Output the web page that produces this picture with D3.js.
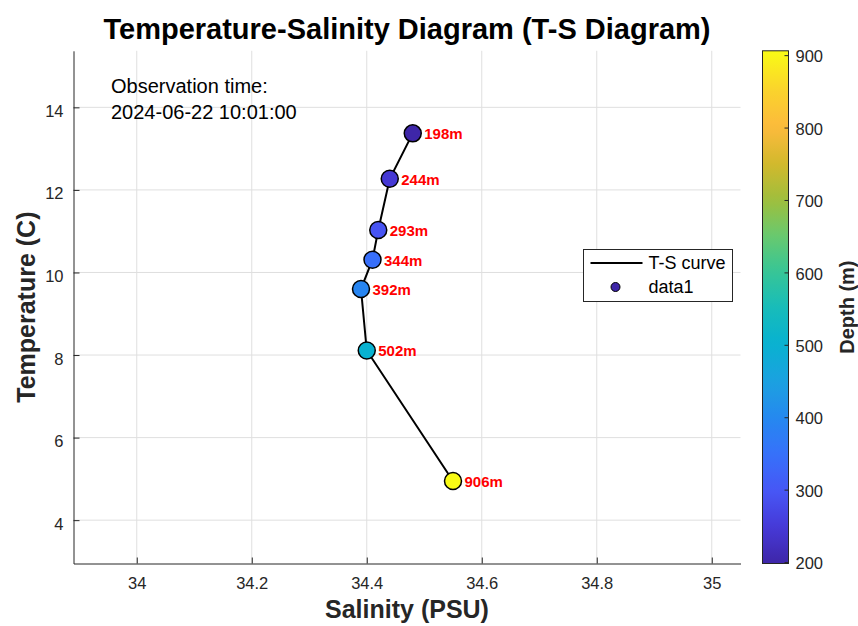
<!DOCTYPE html>
<html>
<head>
<meta charset="utf-8">
<script src="https://cdn.jsdelivr.net/npm/d3@7"></script>
<style>
  body { margin: 0; background: #fff; }
  svg { font-family: "Liberation Sans", Arial, sans-serif; }
</style>
</head>
<body>
<div id="chart"></div>
<script>
// T-S profile
var salinity = [34.48, 34.44, 34.42, 34.41, 34.39, 34.40, 34.55];
var temperature = [13.37, 12.27, 11.03, 10.31, 9.60, 8.11, 4.95];
var depth = [198, 244, 293, 344, 392, 502, 906];

var xTicks = [34, 34.2, 34.4, 34.6, 34.8, 35];
var yTicks = [4, 6, 8, 10, 12, 14];
var depthTicks = [200, 300, 400, 500, 600, 700, 800, 900];

var obsLines = ["Observation time:", "2024-06-22 10:01:00"];

// approx parula stops
var parulaStops = [
    [0.00, [62, 38, 168]],
    [0.07, [70, 57, 215]],
    [0.14, [71, 86, 245]],
    [0.21, [55, 112, 250]],
    [0.28, [38, 135, 240]],
    [0.35, [29, 160, 225]],
    [0.43, [8, 178, 208]],
    [0.50, [24, 188, 185]],
    [0.57, [55, 197, 150]],
    [0.64, [105, 201, 110]],
    [0.71, [160, 190, 60]],
    [0.78, [210, 185, 45]],
    [0.85, [252, 186, 60]],
    [0.92, [250, 210, 45]],
    [1.00, [249, 251, 21]]
];

(function () {
    function parula(t) {
        t = Math.max(0, Math.min(1, t));
        for (var i = 1; i < parulaStops.length; i++) {
            if (t <= parulaStops[i][0]) {
                var a = parulaStops[i - 1], b = parulaStops[i];
                var f = (t - a[0]) / (b[0] - a[0]);
                var c = a[1].map(function (v, k) { return Math.round(v + f * (b[1][k] - v)); });
                return "rgb(" + c.join(",") + ")";
            }
        }
        return "rgb(249,251,21)";
    }

    var W = 858, H = 626;
    var pLeft = 73.5, pRight = 740.5, pTop = 50.8, pBottom = 563.5;
    var ink = "#262626";
    var tickFont = "16.5px";

    var svg = d3.select("#chart").append("svg")
        .attr("width", W).attr("height", H);

    var data = salinity.map(function (s, i) {
        return { s: s, t: temperature[i], d: depth[i] };
    });

    var sExt = d3.extent(salinity), tExt = d3.extent(temperature), dExt = d3.extent(depth);

    var x = d3.scaleLinear().domain([sExt[0] - 0.5, sExt[1] + 0.5]).range([pLeft, pRight]);
    var y = d3.scaleLinear().domain([tExt[0] - 2, tExt[1] + 2]).range([pBottom, pTop]);
    var colorT = d3.scaleLinear().domain(dExt).range([0, 1]);
    function colour(d) { return parula(colorT(d)); }

    // grid
    var grid = svg.append("g");
    grid.selectAll(".gx").data(xTicks).enter().append("line")
        .attr("x1", function (d) { return x(d); }).attr("x2", function (d) { return x(d); })
        .attr("y1", pTop).attr("y2", pBottom)
        .attr("stroke", "#dfdfdf").attr("stroke-width", 1);
    grid.selectAll(".gy").data(yTicks).enter().append("line")
        .attr("y1", function (d) { return y(d); }).attr("y2", function (d) { return y(d); })
        .attr("x1", pLeft).attr("x2", pRight)
        .attr("stroke", "#dfdfdf").attr("stroke-width", 1);

    // axes (ticks inside)
    var xAxis = svg.append("g")
        .attr("transform", "translate(0," + pBottom + ")")
        .call(d3.axisBottom(x).tickValues(xTicks).tickSizeInner(-6).tickSizeOuter(0).tickPadding(10)
            .tickFormat(d3.format("~g")));
    var yAxis = svg.append("g")
        .attr("transform", "translate(" + pLeft + ",0)")
        .call(d3.axisLeft(y).tickValues(yTicks).tickSizeInner(-6).tickSizeOuter(0).tickPadding(10));

    [xAxis, yAxis].forEach(function (g) {
        g.select(".domain").attr("stroke", ink);
        g.selectAll(".tick line").attr("stroke", ink);
        g.selectAll(".tick text").attr("fill", ink)
            .style("font-size", tickFont).style("font-family", "Liberation Sans, Arial, sans-serif");
    });
    xAxis.selectAll(".tick text").attr("dy", "0.95em");
    yAxis.selectAll(".tick text").attr("dy", "0.55em");

    // T-S curve
    var line = d3.line()
        .x(function (d) { return x(d.s); })
        .y(function (d) { return y(d.t); });

    svg.append("path")
        .datum(data)
        .attr("d", line)
        .attr("fill", "none")
        .attr("stroke", "#000")
        .attr("stroke-width", 2);

    svg.selectAll(".pt").data(data).enter().append("circle")
        .attr("cx", function (d) { return x(d.s); })
        .attr("cy", function (d) { return y(d.t); })
        .attr("r", 8.5)
        .attr("fill", function (d) { return colour(d.d); })
        .attr("stroke", "#000")
        .attr("stroke-width", 1.5);

    svg.selectAll(".lbl").data(data).enter().append("text")
        .attr("x", function (d) { return x(d.s + 0.02); })
        .attr("y", function (d) { return y(d.t); })
        .attr("dy", "0.4em")
        .attr("fill", "#ff0000")
        .style("font-size", "15px").style("font-weight", "bold")
        .text(function (d) { return d.d + "m"; });

    // observation time
    svg.append("g").selectAll("text").data(obsLines).enter().append("text")
        .attr("x", 111)
        .attr("y", function (d, i) { return 93 + i * 26; })
        .attr("fill", "#000")
        .style("font-size", "20px")
        .text(function (d) { return d; });

    // legend
    var lg = svg.append("g").attr("transform", "translate(583.5,249.5)");
    lg.append("rect").attr("width", 149).attr("height", 52)
        .attr("fill", "#fff").attr("stroke", ink).attr("stroke-width", 1);
    lg.append("line").attr("x1", 7).attr("x2", 59).attr("y1", 13.5).attr("y2", 13.5)
        .attr("stroke", "#000").attr("stroke-width", 2);
    lg.append("text").attr("x", 65).attr("y", 13.5).attr("dy", "0.36em")
        .style("font-size", "18px").attr("fill", "#000").text("T-S curve");
    lg.append("circle").attr("cx", 32).attr("cy", 37.5).attr("r", 4.5)
        .attr("fill", colour(depth[0])).attr("stroke", "#000").attr("stroke-width", 1);
    lg.append("text").attr("x", 65).attr("y", 37.5).attr("dy", "0.36em")
        .style("font-size", "18px").attr("fill", "#000").text("data1");

    // colorbar
    var cbX = 762.5, cbW = 26;
    var cy = d3.scaleLinear().domain(dExt).range([pBottom, pTop]);
    var grad = svg.append("defs").append("linearGradient")
        .attr("id", "parula").attr("x1", 0).attr("x2", 0).attr("y1", 1).attr("y2", 0);
    grad.selectAll("stop").data(d3.range(0, 1.0001, 0.02)).enter().append("stop")
        .attr("offset", function (d) { return d; })
        .attr("stop-color", function (d) { return parula(d); });
    svg.append("rect")
        .attr("x", cbX).attr("y", pTop).attr("width", cbW).attr("height", pBottom - pTop)
        .attr("fill", "url(#parula)").attr("stroke", ink).attr("stroke-width", 1);

    var cbAxis = svg.append("g")
        .attr("transform", "translate(" + (cbX + cbW) + ",0)")
        .call(d3.axisRight(cy).tickValues(depthTicks).tickSizeInner(-4).tickSizeOuter(0).tickPadding(7));
    cbAxis.select(".domain").remove();
    cbAxis.selectAll(".tick line").attr("stroke", ink);
    cbAxis.selectAll(".tick text").attr("fill", ink).attr("dy", "0.4em")
        .style("font-size", tickFont).style("font-family", "Liberation Sans, Arial, sans-serif");

    svg.append("text")
        .attr("transform", "translate(847," + ((pTop + pBottom) / 2) + ") rotate(-90)")
        .attr("text-anchor", "middle").attr("dy", "0.35em")
        .style("font-size", "20px").style("font-weight", "bold").attr("fill", ink)
        .text("Depth (m)");

    // titles
    svg.append("text")
        .attr("x", (pLeft + pRight) / 2).attr("y", 38.5)
        .attr("text-anchor", "middle")
        .style("font-size", "29px").style("font-weight", "bold").attr("fill", "#000")
        .text("Temperature-Salinity Diagram (T-S Diagram)");

    svg.append("text")
        .attr("x", (pLeft + pRight) / 2).attr("y", 618)
        .attr("text-anchor", "middle")
        .style("font-size", "25px").style("font-weight", "bold").attr("fill", ink)
        .text("Salinity (PSU)");

    svg.append("text")
        .attr("transform", "translate(26," + ((pTop + pBottom) / 2) + ") rotate(-90)")
        .attr("text-anchor", "middle").attr("dy", "0.35em")
        .style("font-size", "25px").style("font-weight", "bold").attr("fill", ink)
        .text("Temperature (C)");
}());
</script>
</body>
</html>
